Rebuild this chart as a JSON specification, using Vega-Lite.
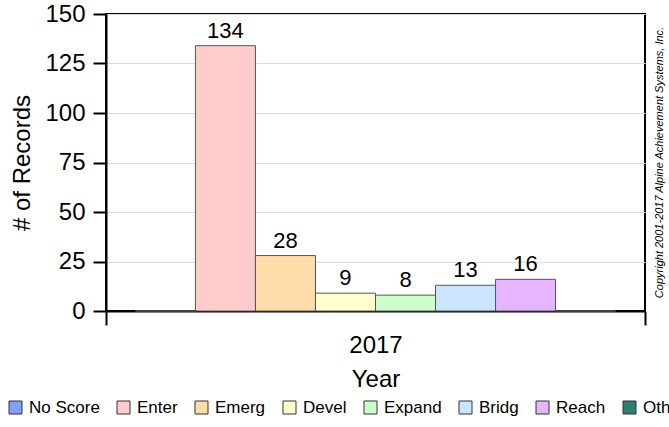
{
  "$schema": "https://vega.github.io/schema/vega-lite/v6.json",
  "width": 539,
  "height": 297,
  "autosize": {"type": "none"},
  "padding": {"left": 106, "top": 14, "right": 24, "bottom": 116},
  "background": "white",
  "config": {
    "font": "Liberation Sans",
    "view": {"stroke": "black", "strokeWidth": 2}
  },
  "title": {
    "text": "Copyright 2001-2017 Alpine Achievement Systems, Inc.",
    "orient": "right",
    "angle": -90,
    "anchor": "middle",
    "baseline": "middle",
    "offset": -22,
    "fontSize": 11,
    "fontStyle": "italic",
    "fontWeight": "normal",
    "color": "black"
  },
  "data": {
    "values": [
      {"year": "2017", "level": "No Score", "count": 0},
      {"year": "2017", "level": "Enter", "count": 134},
      {"year": "2017", "level": "Emerg", "count": 28},
      {"year": "2017", "level": "Devel", "count": 9},
      {"year": "2017", "level": "Expand", "count": 8},
      {"year": "2017", "level": "Bridg", "count": 13},
      {"year": "2017", "level": "Reach", "count": 16},
      {"year": "2017", "level": "Oth", "count": 0}
    ]
  },
  "encoding": {
    "x": {
      "field": "year",
      "type": "nominal",
      "scale": {"paddingInner": 0, "paddingOuter": 0},
      "axis": {
        "title": "Year",
        "titleFontSize": 24,
        "titleFontWeight": "normal",
        "titleColor": "black",
        "titlePadding": 10,
        "labelFontSize": 24,
        "labelColor": "black",
        "labelAngle": 0,
        "labelPadding": 8,
        "tickBand": "extent",
        "tickSize": 14,
        "tickWidth": 2,
        "tickColor": "black",
        "domainWidth": 2,
        "domainColor": "black",
        "grid": false
      }
    },
    "xOffset": {
      "field": "level",
      "type": "nominal",
      "sort": ["No Score", "Enter", "Emerg", "Devel", "Expand", "Bridg", "Reach", "Oth"],
      "scale": {"paddingInner": 0, "paddingOuter": 0.49}
    },
    "y": {
      "field": "count",
      "type": "quantitative",
      "scale": {"domain": [0, 150], "nice": false},
      "axis": {
        "values": [0, 25, 50, 75, 100, 125, 150],
        "title": "# of Records",
        "titleFontSize": 24,
        "titleFontWeight": "normal",
        "titleColor": "black",
        "titlePadding": 10,
        "labelFontSize": 24,
        "labelColor": "black",
        "labelPadding": 8,
        "tickSize": 13,
        "tickWidth": 2,
        "tickColor": "black",
        "domainWidth": 2,
        "domainColor": "black",
        "grid": true,
        "gridColor": "#dddddd",
        "gridWidth": 1
      }
    }
  },
  "layer": [
    {
      "mark": {"type": "bar", "stroke": "#555555", "strokeWidth": 1},
      "encoding": {
        "color": {
          "field": "level",
          "type": "nominal",
          "scale": {
            "domain": ["No Score", "Enter", "Emerg", "Devel", "Expand", "Bridg", "Reach", "Oth"],
            "range": ["#809FFF", "#FFCCCC", "#FFDDAA", "#FFFFCC", "#CCFFCC", "#CCE5FF", "#E5B5FF", "#2A7F6F"]
          },
          "legend": {
            "orient": "none",
            "legendX": -99,
            "legendY": 385,
            "direction": "horizontal",
            "title": null,
            "padding": 0,
            "symbolType": "square",
            "symbolSize": 169,
            "symbolStrokeColor": "#333333",
            "symbolStrokeWidth": 1,
            "labelFontSize": 17,
            "labelColor": "black",
            "labelOffset": 5,
            "columnPadding": 15
          }
        }
      }
    },
    {
      "transform": [{"filter": "datum.count > 0"}],
      "mark": {"type": "text", "baseline": "bottom", "dy": -3, "fontSize": 22, "color": "black"},
      "encoding": {"text": {"field": "count", "type": "quantitative"}}
    }
  ]
}
